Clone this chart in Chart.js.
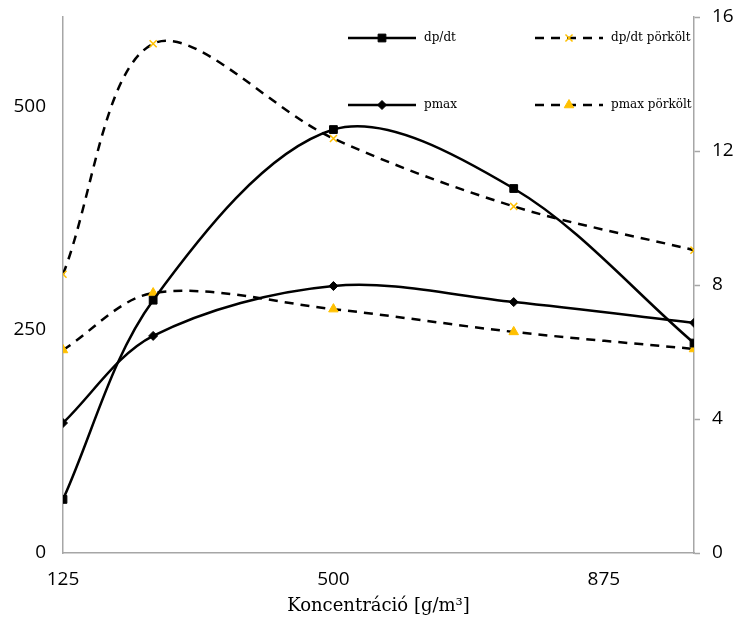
<!DOCTYPE html>
<html>
<head>
<meta charset="utf-8">
<script src="https://cdn.jsdelivr.net/npm/chart.js@4/dist/chart.umd.min.js"></script>
<style>
  html, body { margin: 0; padding: 0; background: #fff; }
  #wrap { width: 741px; height: 635px; }
</style>
</head>
<body>
<div id="wrap"><canvas id="koncChart"></canvas></div>
<script>
// Koncentráció [g/m3]
const konc = [125, 250, 500, 750, 1000];

// bal tengely
const dpdt = [60, 283, 474, 408, 235];
const dpdt_pork = [312, 570, 464, 388, 339];

// jobb tengely
const pmax = [3.88, 6.48, 7.97, 7.49, 6.87];
const pmax_pork = [6.06, 7.76, 7.28, 6.6, 6.09];

const xTicks = [125, 500, 875];
const leftTicks = [0, 250, 500];
const rightTicks = [0, 4, 8, 12, 16];

const yellow = '#FFC000';
const axisGrey = '#a6a6a6';

function pts(vals) {
    return konc.map((k, i) => ({ x: k, y: vals[i] }));
}

// legenda a rajzterületen belül, 2x2
const legendPlugin = {
    id: 'innerLegend',
    afterDatasetsDraw(chart) {
        const ctx = chart.ctx;
        const cols = [348, 535];
        const rows = [38, 105];
        chart.data.datasets.forEach((ds, i) => {
            const x0 = cols[i % 2];
            const y0 = rows[Math.floor(i / 2)];
            ctx.save();
            ctx.strokeStyle = ds.borderColor;
            ctx.lineWidth = ds.borderWidth;
            ctx.setLineDash(ds.borderDash || []);
            ctx.beginPath();
            ctx.moveTo(x0, y0);
            ctx.lineTo(x0 + 68, y0);
            ctx.stroke();
            ctx.setLineDash([]);
            ctx.fillStyle = ds.pointBackgroundColor;
            ctx.strokeStyle = ds.pointBorderColor;
            ctx.lineWidth = ds.pointBorderWidth;
            Chart.helpers.drawPoint(ctx, {
                pointStyle: ds.pointStyle,
                radius: ds.pointRadius,
                borderWidth: ds.pointBorderWidth,
                rotation: 0
            }, x0 + 34, y0);
            ctx.fillStyle = '#000';
            ctx.font = '12px "DejaVu Serif"';
            ctx.textBaseline = 'middle';
            ctx.fillText(ds.label, x0 + 76, y0);
            ctx.restore();
        });
    }
};

// y tengelyek: ne toljak el a rajzterületet a címkék miatt
function noPad(s, w) {
    s.width = w;
    s.paddingTop = 0;
    s.paddingBottom = 0;
}

let konc_c = document.getElementById('koncChart');
let chart = new Chart(konc_c, {
    type: 'line',
    data: {
        datasets: [{
            label: 'dp/dt',
            data: pts(dpdt),
            yAxisID: 'y',
            borderColor: '#000',
            borderWidth: 2.5,
            tension: 0.33,
            pointStyle: 'rect',
            pointRadius: 5.5,
            pointBackgroundColor: '#000',
            pointBorderColor: '#000',
            pointBorderWidth: 1
        }, {
            label: 'dp/dt pörkölt',
            data: pts(dpdt_pork),
            yAxisID: 'y',
            borderColor: '#000',
            borderWidth: 2.5,
            borderDash: [9, 7],
            tension: 0.33,
            pointStyle: 'crossRot',
            pointRadius: 5,
            pointBackgroundColor: yellow,
            pointBorderColor: yellow,
            pointBorderWidth: 1.5
        }, {
            label: 'pmax',
            data: pts(pmax),
            yAxisID: 'y1',
            borderColor: '#000',
            borderWidth: 2.5,
            tension: 0.33,
            pointStyle: 'rectRot',
            pointRadius: 4.5,
            pointBackgroundColor: '#000',
            pointBorderColor: '#000',
            pointBorderWidth: 1
        }, {
            label: 'pmax pörkölt',
            data: pts(pmax_pork),
            yAxisID: 'y1',
            borderColor: '#000',
            borderWidth: 2.5,
            borderDash: [9, 7],
            tension: 0.33,
            pointStyle: 'triangle',
            pointRadius: 5.5,
            pointBackgroundColor: yellow,
            pointBorderColor: yellow,
            pointBorderWidth: 1
        }]
    },
    options: {
        responsive: true,
        maintainAspectRatio: false,
        animation: false,
        layout: { padding: { top: 17, bottom: 0, left: 0, right: 0 } },
        plugins: {
            legend: { display: false },
            tooltip: { enabled: false }
        },
        scales: {
            x: {
                type: 'linear',
                min: 125,
                max: 1000,
                afterBuildTicks: s => { s.ticks = xTicks.map(v => ({ value: v })); },
                afterFit: s => { s.height = 82; },
                grid: { display: false, drawTicks: false },
                border: { color: axisGrey, width: 1.5 },
                ticks: {
                    color: '#000',
                    font: { family: '"Open Sans"', size: 19 },
                    padding: 15,
                    maxRotation: 0
                },
                title: {
                    display: true,
                    text: 'Koncentráció [g/m³]',
                    color: '#000',
                    font: { family: '"DejaVu Serif"', size: 18 },
                    padding: { top: 0, bottom: 18 }
                }
            },
            y: {
                position: 'left',
                min: 0,
                max: 600,
                afterBuildTicks: s => { s.ticks = leftTicks.map(v => ({ value: v })); },
                afterFit: s => noPad(s, 63),
                grid: { display: false, drawTicks: false },
                border: { color: axisGrey, width: 1.5 },
                ticks: {
                    color: '#000',
                    font: { family: '"Open Sans"', size: 19 },
                    padding: 17
                }
            },
            y1: {
                position: 'right',
                min: 0,
                max: 16,
                afterBuildTicks: s => { s.ticks = rightTicks.map(v => ({ value: v })); },
                afterFit: s => noPad(s, 47),
                grid: {
                    display: true,
                    drawOnChartArea: false,
                    drawTicks: true,
                    tickLength: 6,
                    tickColor: axisGrey,
                    tickWidth: 1.5
                },
                border: { color: axisGrey, width: 1.5 },
                ticks: {
                    color: '#000',
                    font: { family: '"Open Sans"', size: 19 },
                    padding: 12
                }
            }
        }
    },
    plugins: [legendPlugin]
});
</script>
</body>
</html>
